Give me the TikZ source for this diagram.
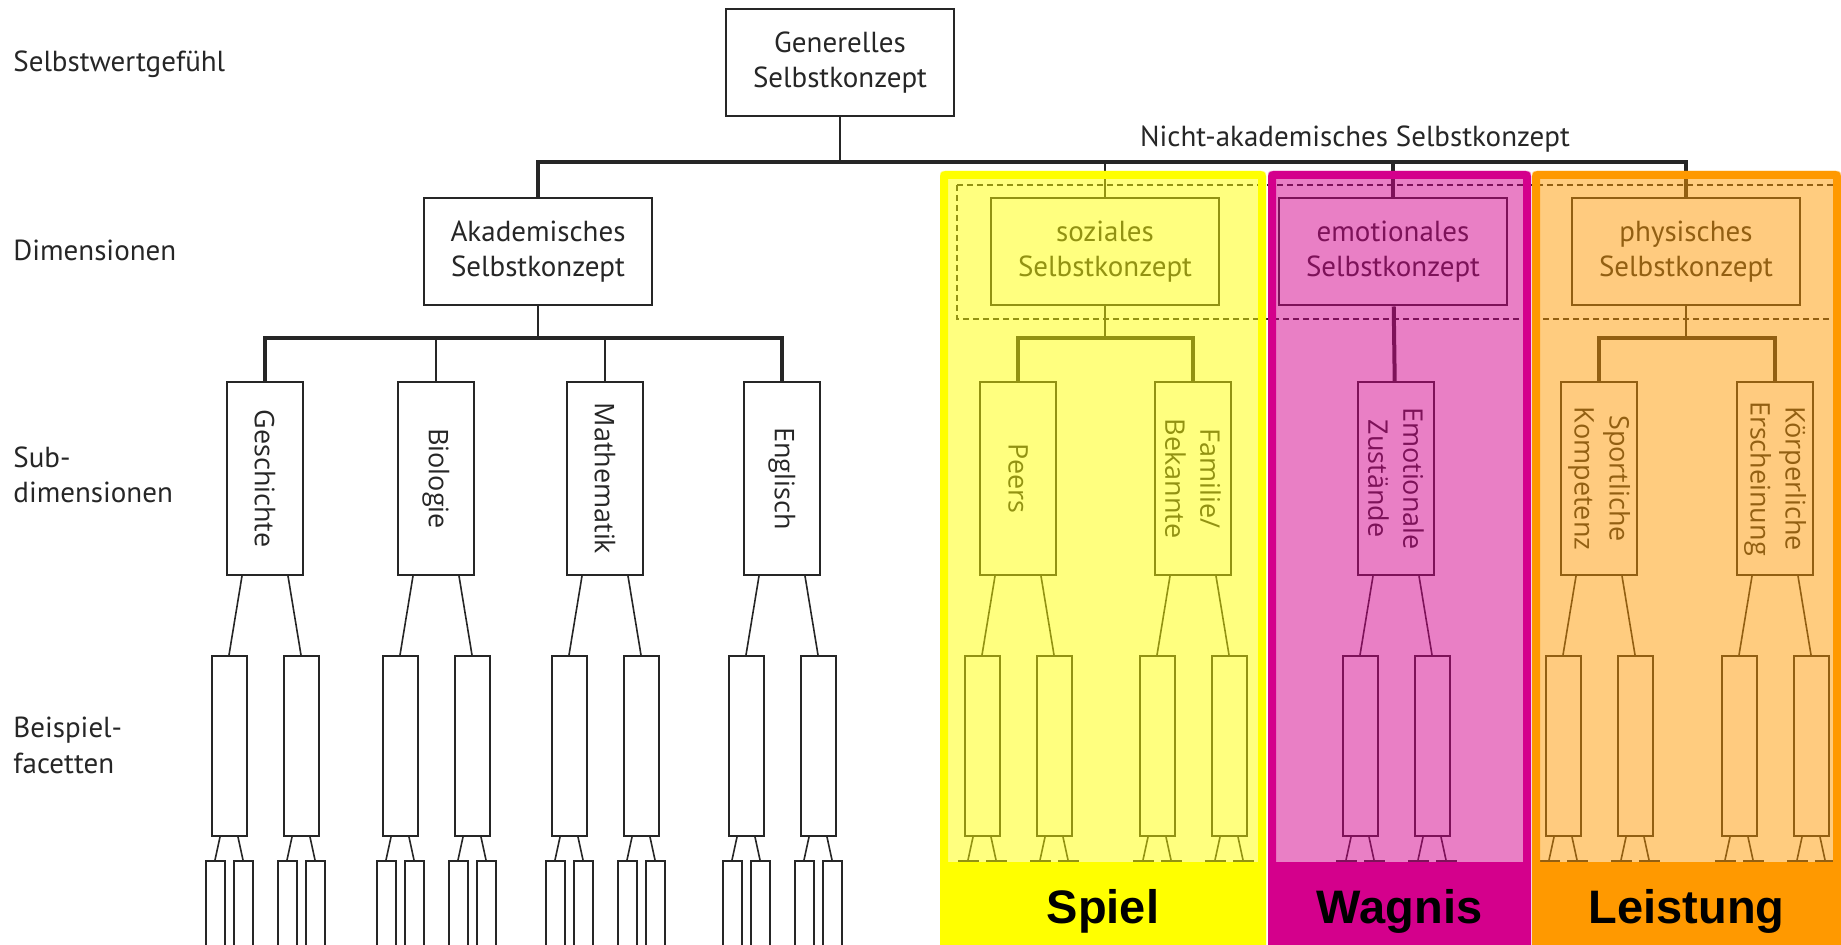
\documentclass[tikz,border=0pt]{standalone}
\usepackage{fontspec}
\setmainfont{PT Sans}
\newfontfamily\subfont{Open Sans}
\newfontfamily\bandfont{Liberation Sans}
\usetikzlibrary{positioning,calc}

\definecolor{linegray}{HTML}{262626}
\definecolor{spielyellow}{HTML}{FFFF00}
\definecolor{wagnismagenta}{HTML}{D4008C}
\definecolor{leistungorange}{HTML}{FF9900}

\begin{document}
\begin{tikzpicture}[x=0.5pt,y=-0.5pt,
    every node/.style={text=black!85},
    line/.style={draw=linegray,line width=1pt},
    thinline/.style={draw=linegray,line width=0.8pt},
    bar/.style={draw=linegray,line width=2pt},
    basic/.style={draw=linegray,line width=1pt,fill=white,inner sep=0pt},
    dimbox/.style={basic,minimum width=114pt,minimum height=53.5pt,align=center,
        font=\fontsize{14.5}{17.5}\selectfont},
    subbox/.style={basic,rotate=-90,minimum width=96.5pt,minimum height=38pt,align=center,
        font=\subfont\fontsize{13.5}{17.5}\selectfont},
    facet/.style={basic,anchor=north,minimum width=17.5pt,minimum height=90pt},
    leaf/.style={basic,anchor=north,minimum width=9.5pt,minimum height=50pt},
    level/.style={anchor=base west,align=left,inner sep=0pt,font=\fontsize{14.5}{17.5}\selectfont},
    band/.style={anchor=base,text=black,font=\bandfont\bfseries\fontsize{23.5}{28}\selectfont},
]
\useasboundingbox (0,0) rectangle (1841,945);
\clip (0,0) rectangle (1841,945);

% Ebenen links (Basislinie der letzten Zeile)
\node[level] (lvl0) at (13,72) {Selbstwertgefühl};
\node[level] (lvl1) at (13,261) {Dimensionen};
\node[level] (lvl2) at (13,503) {Sub-\\dimensionen};
\node[level] (lvl3) at (13,773) {Beispiel-\\facetten};

% oberste Ebenen
\node[dimbox] (gen) at (840,63) {Generelles\\Selbstkonzept};
\node[dimbox] (akad) at (538,252) {Akademisches\\Selbstkonzept};
\node[dimbox] (soz) at (1105,252) {soziales\\Selbstkonzept};
\node[dimbox] (emo) at (1393,252) {emotionales\\Selbstkonzept};
\node[dimbox] (phys) at (1686,252) {physisches\\Selbstkonzept};
\node[anchor=base,font=\fontsize{14.5}{17.5}\selectfont] (nakad) at (1355,147) {Nicht-akademisches Selbstkonzept};
\draw[draw=linegray,line width=1pt,dash pattern=on 3pt off 2pt] (957,185) rectangle (1836,319);

\coordinate (top) at (840,162);
\draw[line] (gen) -- (top);
\draw[bar] (akad) -- (akad |- top) -- (phys |- top) -- (phys);
\draw[line] (soz) -- (soz |- top);
\draw[bar] (emo) -- (emo |- top);

% Subdimensionen
\node[subbox] (gesch) at (265,478.5) {Geschichte};
\node[subbox] (bio) at (436,478.5) {Biologie};
\node[subbox] (mathe) at (605,478.5) {Mathematik};
\node[subbox] (engl) at (782,478.5) {Englisch};
\node[subbox] (peers) at (1018,478.5) {Peers};
\node[subbox] (fam) at (1193,478.5) {Familie/\\Bekannte};
\node[subbox] (emozu) at (1396,478.5) {Emotionale\\Zustände};
\node[subbox] (sport) at (1599,478.5) {Sportliche\\Kompetenz};
\node[subbox] (koerp) at (1775,478.5) {Körperliche\\Erscheinung};

\coordinate (akbar) at (538,338.5);
\draw[line] (akad) -- (akbar);
\draw[bar] (gesch) -- (gesch |- akbar) -- (engl |- akbar) -- (engl);
\draw[line] (bio) -- (bio |- akbar);
\draw[line] (mathe) -- (mathe |- akbar);
\coordinate (sozbar) at (1105,338.5);
\draw[line] (soz) -- (sozbar);
\draw[bar] (peers) -- (peers |- sozbar) -- (fam |- sozbar) -- (fam);
\draw[bar] (emo) -- (emozu);
\coordinate (physbar) at (1686,338.5);
\draw[line] (phys) -- (physbar);
\draw[bar] (sport) -- (sport |- physbar) -- (koerp |- physbar) -- (koerp);

% Beispielfacetten
\foreach \s in {gesch,bio,mathe,engl,peers,fam,emozu,sport,koerp}{
  \foreach \side/\dx/\dy in {l/-36/-23,r/36/23}{
    \node[facet] (\s\side) at ($(\s.east)+(\dx,79)$) {};
    \draw[thinline] ($(\s.east)+(\dy,0)$) -- (\s\side.north);
    \foreach \k/\ex/\ey in {a/-14/-9,b/14/9}{
      \node[leaf] (\s\side\k) at ($(\s\side.south)+(\ex,23)$) {};
      \draw[thinline] ($(\s\side.south)+(\ey,0)$) -- (\s\side\k.north);
    }
  }
}

% Spiel, Wagnis, Leistung
\foreach \n/\col/\xa/\xb/\txt in {spiel/spielyellow/940/1266/Spiel,
    wagnis/wagnismagenta/1268/1531/Wagnis,
    leistung/leistungorange/1532/1841/Leistung}{
  \fill[\col,fill opacity=0.5,rounded corners=1.5pt] (\xa,171) rectangle (\xb,980);
  \draw[\col,line width=4pt,rounded corners=1pt] (\xa+4,175) rectangle (\xb-4,980);
  \fill[\col] (\xa,862) rectangle (\xb,980);
  \node[band] (\n) at ({(\xa+\xb)/2},923) {\txt};
}
\end{tikzpicture}
\end{document}
